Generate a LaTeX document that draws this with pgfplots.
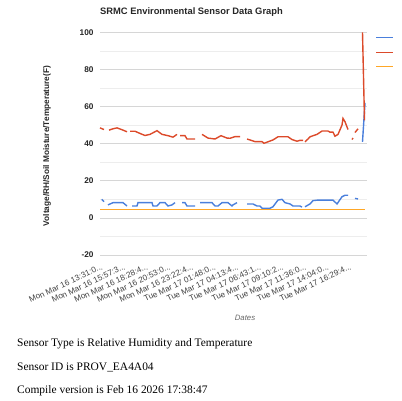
\documentclass[border=0pt]{standalone}
\usepackage{fontspec}
\setmainfont{Liberation Serif}
\newfontfamily\arial{Liberation Sans}
\usepackage{pgfplots}
\usepackage{pgfplotstable}
\pgfplotsset{compat=1.18}
\definecolor{gblue}{HTML}{4A7FDC}
\definecolor{gred}{HTML}{DC4A2A}
\definecolor{gorange}{HTML}{FFA726}
\definecolor{gridmaj}{HTML}{D6D6D6}
\definecolor{gridmin}{HTML}{EDEDED}
\newcommand{\ddd}{...}

\pgfplotstableread{
x y
0 48.5
4 47.6
6 nan
9 47.3
13 48.0
17 48.5
22 47.5
27 46.4
29 nan
30 46.7
35 46.7
40 45.5
45 44.4
50 45.0
57 47.0
62 45.0
68 44.3
73 43.5
77 45.0
78.5 nan
80 44.3
85 44.3
87 42.5
95 42.5
98.5 nan
102 45.0
108 43.0
115 42.5
121 44.3
127 43.0
130 42.9
135 43.8
140 43.8
143 nan
147 42.5
155 41.1
162 41.1
164 40.2
170 41.4
173 42.0
178 43.7
188 43.7
192 42.2
197 41.3
200 41.8
203 41.8
204 nan
205 41.0
208 42.5
210 43.7
217 45.0
222 46.8
228 46.8
230 46.2
233 46.2
235 44.0
238 45.0
242 50.0
243 53.6
245 51.8
248 47.6
250 nan
252 42.2
253 43.0
254 nan
255 46.0
258 48.0
260 nan
262.5 100
264.5 52.5
}\temp

\pgfplotstableread{
x y
1.7 10.0
4 8.7
6 nan
8 7.0
13 8.2
18 8.2
23 8.2
27 6.4
29.5 nan
32 6.4
37 6.4
38 8.2
43 8.2
48 8.2
52 8.2
53 6.4
57 6.4
60 8.2
65 8.2
68 6.4
72 7.0
75 8.2
78 nan
82 8.2
85 8.2
87 6.4
95 6.4
98 nan
100 8.2
112 8.2
115 6.4
118 6.4
122 8.2
128 8.2
132 6.4
133 7.0
137 8.2
140 nan
147 7.5
153 7.5
157 6.4
160 6.4
162 5.2
170 5.2
173 6.0
178 9.6
182 10.0
185 8.2
190 7.5
193 6.4
200 6.4
202 5.8
203.5 nan
205 6.0
210 7.5
213 9.3
218 9.6
233 9.6
237 7.5
242 11.4
245 12.2
248 12.2
250 nan
252 10.0
253.5 nan
255 10.5
258 10.2
260 nan
262.5 41
265 62
}\hum

\pgfplotstableread{
x y
0 4.5
265 4.5
}\volt

\begin{document}
\begin{tikzpicture}[x=1bp,y=1bp]
\useasboundingbox (0,0) rectangle (402,401);
\begin{axis}[
  at={(100bp,146bp)}, anchor=south west,
  scale only axis, width=267bp, height=222.7bp,
  xmin=0, xmax=267, ymin=-20, ymax=100,
  axis line style={draw=none},
  major tick length=0pt, minor tick length=0pt,
  ytick={-20,0,20,40,60,80,100},
  minor ytick={-10,10,30,50,70,90},
  ymajorgrids, yminorgrids,
  major grid style={gridmaj, line width=0.6bp},
  minor grid style={gridmin, line width=0.6bp},
  extra y ticks={0}, extra y tick labels={},
  extra y tick style={grid style={gray!75, line width=0.8bp}},
  /pgf/number format/assume math mode=true,
  yticklabel style={font=\arial\bfseries\fontsize{8.3}{9}\selectfont, text=black!85, xshift=-3bp},
  xtick={4,26.6,49.2,71.8,94.4,117,139.6,162.2,184.8,207.4,230,252.6},
  xticklabels={Mon Mar 16 13:31:0\ddd,Mon Mar 16 15:57:3\ddd,Mon Mar 16 18:28:4\ddd,Mon Mar 16 20:53:0\ddd,Mon Mar 16 23:22:4\ddd,Tue Mar 17 01:48:0\ddd,Tue Mar 17 04:13:4\ddd,Tue Mar 17 06:43:1\ddd,Tue Mar 17 09:10:2\ddd,Tue Mar 17 11:36:0\ddd,Tue Mar 17 14:04:0\ddd,Tue Mar 17 16:29:4\ddd},
  xticklabel style={font=\arial\fontsize{8.2}{9}\selectfont, text=black!75, rotate=25, anchor=north east, inner sep=0.5bp, yshift=-6bp, xshift=-6bp},
  unbounded coords=jump,
  legend style={at={(axis description cs:1.02,1.018)}, anchor=north west, draw=none, fill=none,
    nodes={inner sep=0pt, minimum height=14.5bp}},
  legend image code/.code={\draw[#1, line width=1.4bp] (0bp,0bp) -- (17bp,0bp);},
  clip=false,
]
\addplot[gblue, line width=1.4bp] table[x=x,y=y] {\hum};
\addlegendentry{}
\addplot[gred, line width=1.4bp] table[x=x,y=y] {\temp};
\addlegendentry{}
\addplot[gorange, line width=1.4bp] table[x=x,y=y] {\volt};
\addlegendentry{}
\end{axis}
\node[font=\arial\bfseries\fontsize{9.4}{11}\selectfont, text=black!85] at (191.5,388.7) {SRMC Environmental Sensor Data Graph};
\node[font=\arial\bfseries\fontsize{8.3}{9}\selectfont, text=black!85, rotate=90] at (47,255) {Voltage/RH/Soil Moisture/Temperature(F)};
\node[font=\arial\itshape\fontsize{7.8}{8}\selectfont, text=black!60] at (245,83) {Dates};
\node[anchor=west, font=\fontsize{11.5}{13}\selectfont, inner sep=0pt] at (17,57.5) {Sensor Type is Relative Humidity and Temperature};
\node[anchor=west, font=\fontsize{11.5}{13}\selectfont, inner sep=0pt] at (17,33.8) {Sensor ID is PROV\_EA4A04};
\node[anchor=west, font=\fontsize{11.5}{13}\selectfont, inner sep=0pt] at (17,10) {Compile version is Feb 16 2026 17:38:47};
\end{tikzpicture}
\end{document}
